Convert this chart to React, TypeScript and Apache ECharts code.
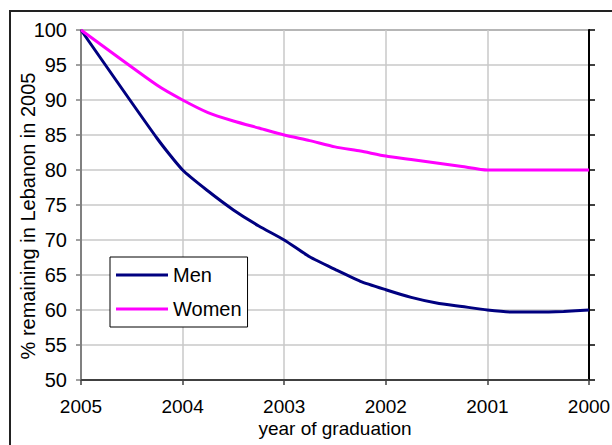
import React, { useEffect, useRef } from "react";
import * as echarts from "echarts";

const yearTicks = [2005, 2004, 2003, 2002, 2001, 2000];
const menYears = [2005, 2004.25, 2004, 2003.75, 2003.5, 2003.25, 2003, 2002.75, 2002.5, 2002.25, 2002, 2001.75, 2001.5, 2001.25, 2001, 2000.75, 2000.5, 2000.25, 2000];
const menValues = [100, 84.5, 80, 77, 74.3, 72, 70, 67.6, 65.8, 64.1, 62.9, 61.8, 61, 60.5, 60, 59.7, 59.7, 59.8, 60];
const womenYears = [2005, 2004.25, 2004, 2003.75, 2003.5, 2003.25, 2003, 2002.75, 2002.5, 2002.25, 2002, 2001.75, 2001.5, 2001.25, 2001, 2000.5, 2000];
const womenValues = [100, 92.1, 90, 88.2, 87, 86, 85, 84.2, 83.3, 82.7, 82, 81.5, 81, 80.5, 80, 80, 80];

const FONT = "'Liberation Sans', Arial, sans-serif";
const FS = 20;
const FSX = 19;

export default function App() {
  const ref = useRef<HTMLDivElement>(null);
  useEffect(() => {
    document.body.style.margin = "0";
    const chart = echarts.init(ref.current!, null, { renderer: "svg" });
    const men = menYears.map((y, i) => [y, menValues[i]]);
    const women = womenYears.map((y, i) => [y, womenValues[i]]);
    chart.setOption({
      animation: false,
      backgroundColor: "transparent",
      textStyle: { fontFamily: FONT },
      grid: {
        left: 81,
        top: 30,
        right: 23,
        bottom: 65,
        show: true,
        borderColor: "#808080",
        borderWidth: 2,
        containLabel: false,
        outerBoundsMode: "none",
      },
      legend: {
        orient: "vertical",
        left: 110,
        top: 257,
        itemWidth: 52,
        itemHeight: 3,
        itemGap: 14,
        padding: [8, 6, 8, 6],
        backgroundColor: "#ffffff",
        borderColor: "#000000",
        borderWidth: 1,
        icon: "rect",
        textStyle: { fontFamily: FONT, fontSize: FS, color: "#000000" },
        data: ["Men", "Women"],
      },
      xAxis: {
        type: "value",
        inverse: true,
        min: 2000,
        max: 2005,
        interval: 1,
        name: "year of graduation",
        nameLocation: "middle",
        nameGap: 39,
        nameMoveOverlap: false,
        nameTextStyle: { fontFamily: FONT, fontSize: FSX, color: "#000000" },
        axisLine: { show: true, lineStyle: { color: "#404040", width: 2 } },
        axisTick: { show: true, length: 5, lineStyle: { color: "#404040", width: 1.5 } },
        axisLabel: {
          fontFamily: FONT,
          fontSize: FSX,
          color: "#000000",
          margin: 17,
          formatter: (v: number) => (yearTicks.includes(v) ? String(v) : ""),
        },
        splitLine: { show: true, lineStyle: { color: "#c8c8c8", width: 1.5 } },
      },
      yAxis: [
        {
          type: "value",
          min: 50,
          max: 100,
          interval: 5,
          name: "% remaining in Lebanon in 2005",
          nameLocation: "middle",
          nameGap: 43,
          nameMoveOverlap: false,
          nameTextStyle: { fontFamily: FONT, fontSize: FS, color: "#000000", padding: [0, 22, 0, 0] },
          axisLine: { show: true, lineStyle: { color: "#808080", width: 2 } },
          axisTick: { show: true, length: 5, lineStyle: { color: "#808080", width: 1.5 } },
          axisLabel: { fontFamily: FONT, fontSize: FS, color: "#000000", margin: 14 },
          splitLine: { show: true, lineStyle: { color: "#c8c8c8", width: 1.5 } },
        },
        {
          type: "value",
          position: "right",
          min: 50,
          max: 100,
          interval: 5,
          axisLine: { show: true, lineStyle: { color: "#000000", width: 2 } },
          axisTick: { show: true, length: 6, lineStyle: { color: "#000000", width: 1.5 } },
          axisLabel: { show: false },
          splitLine: { show: false },
        },
      ],
      series: [
        {
          name: "Men",
          type: "line",
          data: men,
          showSymbol: false,
          smooth: 0.2,
          color: "#000080",
          lineStyle: { color: "#000080", width: 3 },
        },
        {
          name: "Women",
          type: "line",
          data: women,
          showSymbol: false,
          smooth: 0.2,
          color: "#ff00ff",
          lineStyle: { color: "#ff00ff", width: 3 },
        },
      ],
    });
    return () => chart.dispose();
  }, []);
  return (
    <div style={{ position: "relative", width: 612, height: 445, overflow: "hidden", background: "#ffffff" }}>
      <div
        style={{
          position: "absolute",
          left: 9,
          top: 10,
          width: 700,
          height: 500,
          border: "2px solid #222222",
          boxSizing: "border-box",
          pointerEvents: "none",
        }}
      />
      <div ref={ref} style={{ position: "absolute", left: 0, top: 0, width: 612, height: 445 }} />
    </div>
  );
}
